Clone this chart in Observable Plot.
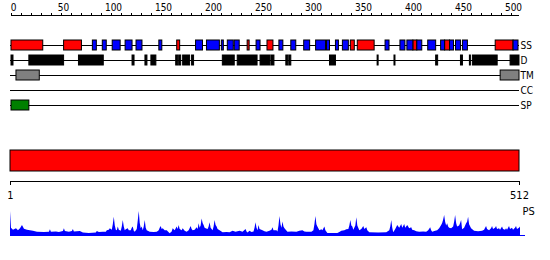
<!DOCTYPE html>
<html><head><meta charset="utf-8">
<script src="https://cdn.jsdelivr.net/npm/d3@7"></script>
<script src="https://cdn.jsdelivr.net/npm/@observablehq/plot@0.6"></script>
<style>
body{margin:0;background:#fff}
#chart{position:relative;width:550px;height:260px;background:#fff}
#chart svg{position:absolute;left:0;top:0;background:transparent}
</style>
</head><body><div id="chart"></div>
<script>
// ---- data ----
const rulerTicks = [0,10,20,30,40,50,60,70,80,90,100,110,120,130,140,150,160,170,180,190,200,210,220,230,240,250,260,270,280,290,300,310,320,330,340,350,360,370,380,390,400,410,420,430,440,450,460,470,480,490,500];
const rulerLabels = [0,50,100,150,200,250,300,350,400,450,500];
const tracks = ["SS","D","TM","CC","SP"];
const helixSegments = [[0,32],[53,71],[167,170],[238,240],[258,264],[342,346],[349,366],[405,409],[437,442],[488,506]];
const strandSegments = [[82,86],[92,96],[102,110],[115,122],[126,132],[149,152],[186,193],[197,210],[212,214],[218,224],[225,230],[247,251],[270,274],[282,287],[295,301],[307,317],[318,321],[327,330],[334,340],[377,381],[392,397],[399,405],[409,414],[420,428],[433,437],[442,446],[448,453],[455,460],[506,511]];
const disorderSegments = [[0,2],[18,53],[68,93],[122,124],[135,137],[141,146],[166,168],[169,171],[173,180],[182,184],[213,225],[228,248],[251,261],[262,265],[277,279],[280,282],[321,323],[324,327],[369,370],[386,387],[428,430],[453,455],[462,463],[465,490],[503,512]];
const tmSegments = [[5,28.5],[493,512]];
const ccSegments = [];
const spSegments = [[0,18]];
const sequenceRange = [1, 512];
const profileResidues = [1,2,4,7,9,11,13,15,18,21,24,28,35,40,41,42,47,50,54,55,56,60,63,64,65,68,71,74,80,87,88,90,94,97,98,100,101,103,104,105,106,107,108,109,110,112,113,114,115,116,117,119,120,122,123,124,125,126,128,129,130,131,132,133,134,135,136,137,138,141,145,148,150,151,152,153,154,156,158,161,163,164,166,168,169,170,171,173,174,176,178,180,182,183,184,186,188,189,190,191,192,193,194,195,196,197,199,200,201,202,204,205,206,207,208,209,211,214,218,221,224,227,231,234,237,238,239,241,243,245,246,247,248,249,250,251,254,256,258,261,263,264,265,268,269,270,271,272,273,274,275,276,279,283,288,291,294,296,298,303,305,306,307,308,309,311,313,314,316,317,319,329,331,333,336,338,340,341,342,343,344,345,347,348,349,351,353,355,356,358,359,361,370,378,381,382,383,384,385,387,389,391,393,394,396,397,399,401,403,404,406,408,411,415,418,420,422,423,424,427,429,431,433,434,435,436,437,438,439,440,441,443,445,446,447,448,449,451,452,453,454,456,458,459,460,461,463,466,470,474,476,478,479,481,483,484,485,487,488,489,491,492,494,495,497,498,499,501,502,504,505,507,508,509,511,512];
const profileValues = [1.0,0.3,0.22,0.28,0.2,0.28,0.42,0.26,0.22,0.2,0.18,0.14,0.12,0.14,0.24,0.14,0.15,0.13,0.17,0.28,0.17,0.14,0.17,0.25,0.15,0.16,0.17,0.1,0.08,0.1,0.17,0.12,0.14,0.14,0.2,0.22,0.28,0.22,0.45,0.76,0.4,0.22,0.2,0.35,0.22,0.18,0.35,0.62,0.35,0.2,0.24,0.28,0.2,0.2,0.3,0.35,0.18,0.14,0.25,0.6,1.0,0.5,0.28,0.35,0.2,0.35,0.62,0.3,0.2,0.14,0.12,0.14,0.2,0.3,0.38,0.25,0.28,0.2,0.2,0.07,0.15,0.28,0.2,0.35,0.25,0.42,0.25,0.2,0.28,0.18,0.14,0.2,0.38,0.25,0.2,0.22,0.32,0.25,0.49,0.3,0.4,0.69,0.5,0.42,0.3,0.28,0.25,0.35,0.53,0.3,0.2,0.35,0.62,0.42,0.35,0.25,0.2,0.11,0.12,0.11,0.18,0.14,0.18,0.14,0.25,0.15,0.1,0.18,0.12,0.15,0.3,0.53,0.3,0.2,0.42,0.25,0.2,0.16,0.14,0.18,0.22,0.32,0.2,0.2,0.15,0.4,0.79,0.45,0.3,0.56,0.35,0.28,0.14,0.15,0.14,0.18,0.2,0.15,0.14,0.14,0.2,0.45,0.79,0.45,0.35,0.2,0.24,0.2,0.35,0.2,0.08,0.08,0.12,0.18,0.2,0.24,0.25,0.4,0.62,0.4,0.35,0.22,0.4,0.74,0.4,0.2,0.25,0.38,0.25,0.32,0.2,0.11,0.1,0.11,0.2,0.35,0.62,0.3,0.11,0.25,0.42,0.3,0.46,0.3,0.46,0.3,0.42,0.28,0.32,0.22,0.2,0.16,0.14,0.15,0.14,0.2,0.32,0.2,0.14,0.18,0.2,0.28,0.42,0.5,0.65,0.83,0.55,0.4,0.49,0.35,0.3,0.28,0.35,0.55,0.83,0.5,0.35,0.4,0.5,0.62,0.24,0.3,0.49,0.55,0.76,0.45,0.28,0.18,0.16,0.18,0.22,0.38,0.25,0.2,0.28,0.38,0.25,0.3,0.38,0.25,0.28,0.22,0.35,0.25,0.22,0.28,0.22,0.38,0.25,0.3,0.22,0.3,0.38,0.25,0.3,0.35];

// ---- build ----
const seg = (arr, track, kind) => arr.map(([s, e]) => ({start: s, end: e, track, kind}));
const boxes = [
  ...seg(helixSegments, "SS", "H"), ...seg(strandSegments, "SS", "E"),
  ...seg(disorderSegments, "D", "D"), ...seg(tmSegments, "TM", "TM"),
  ...seg(ccSegments, "CC", "CC"), ...seg(spSegments, "SP", "SP")
];
const kindColor = {H: "#ff0000", E: "#0000ff", D: "#000000", TM: "#808080", CC: "#ffa500", SP: "#008000"};
const profile = profileResidues.map((r, i) => ({r, v: profileValues[i]}));

const common = {width: 550, height: 260, style: {background: "transparent", fontFamily: "'DejaVu Sans Condensed', 'DejaVu Sans', sans-serif", fontSize: "10px", color: "black", overflow: "visible"}};
const chart = document.getElementById("chart");

// ruler
chart.append(Plot.plot({...common, marginLeft: 11, marginRight: 31, marginTop: 15, marginBottom: 200,
  x: {domain: [0, 508], range: [11, 519], axis: null},
  y: {domain: [0, 1], axis: null},
  marks: [
    Plot.ruleY([1], {stroke: "black"}),
    Plot.axisX(rulerTicks, {anchor: "top", tickSize: 3, tickFormat: () => ""}),
    Plot.axisX(rulerLabels, {anchor: "top", tickSize: 0, tickPadding: 5, dx: 2})
  ]}));

// tracks
chart.append(Plot.plot({...common, marginLeft: 10, marginRight: 31, marginTop: 30, marginBottom: 140,
  x: {domain: [0, 512], range: [11, 519], axis: null},
  y: {type: "band", domain: tracks, range: [37.5, 112.5], paddingInner: 1/3, paddingOuter: 1/6, axis: null},
  marks: [
    Plot.ruleY(tracks, {y: d => d, stroke: "black"}),
    Plot.barX(boxes, {x1: "start", x2: "end", y: "track", fill: d => kindColor[d.kind], stroke: "black", strokeWidth: 1}),
    Plot.axisY({anchor: "right", tickSize: 0, tickPadding: 1, label: null})
  ]}));

// full-length bar
chart.append(Plot.plot({...common, marginLeft: 10, marginRight: 30, marginTop: 150, marginBottom: 89,
  x: {domain: sequenceRange, range: [10, 519], axis: null},
  marks: [
    Plot.barX([{start: sequenceRange[0], end: sequenceRange[1]}], {x1: "start", x2: "end", fill: "#ff0000", stroke: "black"})
  ]}));

// bottom axis
chart.append(Plot.plot({...common, marginLeft: 10, marginRight: 30, marginTop: 170, marginBottom: 79,
  x: {domain: sequenceRange, range: [10, 519], axis: null},
  y: {domain: [0, 1], axis: null},
  marks: [
    Plot.ruleY([0], {stroke: "black"}),
    Plot.axisX(sequenceRange, {anchor: "bottom", tickSize: 4, tickPadding: 6, fontSize: 11})
  ]}));

// PS profile
chart.append(Plot.plot({...common, marginLeft: 10, marginRight: 25, marginTop: 205, marginBottom: 25,
  x: {domain: sequenceRange, range: [10, 520], axis: null},
  y: {domain: [0, 1], range: [235, 211], axis: null},
  marks: [
    Plot.areaY(profile, {x: "r", y: "v", fill: "#0000ff", curve: "linear"}),
    Plot.ruleY([0], {stroke: "#0000ff"}),
    Plot.text(["PS"], {frameAnchor: "top-right", textAnchor: "start", dx: -3, dy: 2, fontSize: 11})
  ]}));
</script></body></html>
